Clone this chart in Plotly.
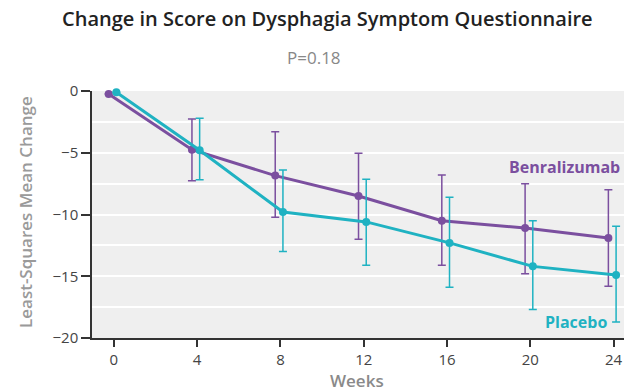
import plotly.graph_objects as go

weeks = [0, 4, 8, 12, 16, 20, 24]

benra_mean = [-0.25, -4.75, -6.85, -8.5, -10.5, -11.1, -11.9]
benra_upper = [None, -2.27, -3.3, -5.04, -6.8, -7.5, -8.0]
benra_lower = [None, -7.26, -10.23, -12.0, -14.1, -14.8, -15.8]

placebo_mean = [-0.1, -4.8, -9.8, -10.6, -12.3, -14.2, -14.9]
placebo_upper = [None, -2.2, -6.4, -7.15, -8.6, -10.5, -10.95]
placebo_lower = [None, -7.18, -13.0, -14.1, -15.9, -17.7, -18.7]

y_ticks = [0, -5, -10, -15, -20]

PURPLE = "#7b4f9f"
CYAN = "#1fb2c2"
FONT = "Open Sans"


def err(mean, upper, lower):
    plus = [0 if u is None else u - m for m, u in zip(mean, upper)]
    minus = [0 if l is None else m - l for m, l in zip(mean, lower)]
    return plus, minus


bp, bm = err(benra_mean, benra_upper, benra_lower)
pp, pm = err(placebo_mean, placebo_upper, placebo_lower)

fig = go.Figure()
fig.add_trace(go.Scatter(
    x=[w - 0.25 for w in weeks], y=benra_mean, mode="lines+markers",
    line=dict(color=PURPLE, width=3), marker=dict(color=PURPLE, size=8),
    error_y=dict(type="data", array=bp, arrayminus=bm, color=PURPLE,
                 thickness=1.5, width=4),
    cliponaxis=False, showlegend=False, name="Benralizumab"))
fig.add_trace(go.Scatter(
    x=[w + 0.12 for w in weeks], y=placebo_mean, mode="lines+markers",
    line=dict(color=CYAN, width=3), marker=dict(color=CYAN, size=8),
    error_y=dict(type="data", array=pp, arrayminus=pm, color=CYAN,
                 thickness=1.5, width=4),
    cliponaxis=False, showlegend=False, name="Placebo"))

fig.update_layout(
    width=624, height=392,
    margin=dict(l=92, r=0, t=91, b=54),
    paper_bgcolor="white", plot_bgcolor="#efefef",
    font=dict(family=FONT, color="#444", size=14),
    xaxis=dict(range=[-1.05, 24.5], tickvals=weeks, showgrid=False,
               zeroline=False, showline=True, linecolor="#333", linewidth=1.5,
               ticks="outside", ticklen=7, tickwidth=1.5, tickcolor="#333",
               tickfont=dict(size=15, color="#444")),
    yaxis=dict(range=[-20, 0], tickvals=y_ticks, showgrid=True,
               gridcolor="white", gridwidth=2, zeroline=False,
               showline=True, linecolor="#333", linewidth=1.5,
               ticks="outside", ticklen=9, tickwidth=1.5, tickcolor="#333",
               tickfont=dict(size=15, color="#444"),
               minor=dict(dtick=2.5, showgrid=True, gridcolor="white",
                          gridwidth=2, ticks="")),
)

W, H = 532, 247


def px(x):
    return (x - 92) / W


def py(y):
    return (338 - y) / H


annots = [
    dict(text="Change in Score on Dysphagia Symptom Questionnaire", x=px(327), y=py(19),
         font=dict(size=20, color="#222", weight=600), xanchor="center"),
    dict(text="P=0.18", x=px(314), y=py(58),
         font=dict(size=17, color="#888"), xanchor="center"),
    dict(text="Least-Squares Mean Change", x=px(25), y=py(212), textangle=-90,
         font=dict(size=17, color="#9a9a9a", weight=600), xanchor="center"),
    dict(text="Weeks", x=px(357), y=py(380),
         font=dict(size=17, color="#8a8a8a", weight=600), xanchor="center"),
    dict(text="Benralizumab", x=px(622), y=py(166.7),
         font=dict(size=16, color=PURPLE, weight=700), xanchor="right"),
    dict(text="Placebo", x=px(609), y=py(321.7),
         font=dict(size=16, color=CYAN, weight=700), xanchor="right"),
]
for a in annots:
    fig.add_annotation(xref="paper", yref="paper", showarrow=False,
                       yanchor="middle", **a)

fig.write_html("out.html")
